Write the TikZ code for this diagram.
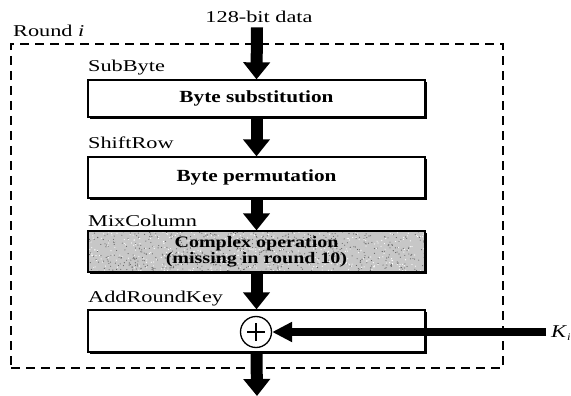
\documentclass[tikz,border=0pt]{standalone}
\usepackage{fontspec}
\setmainfont[FakeStretch=1.25]{Liberation Serif}
\newfontfamily\lblfont[FakeStretch=1.35]{Liberation Serif}
\usetikzlibrary{arrows.meta,shadows,calc}
\begin{document}
\begin{tikzpicture}[x=1pt,y=-1pt,
  stagebox/.style={draw, line width=1.3pt, minimum width=337pt, inner sep=0pt,
    fill=white, align=center,
    drop shadow={shadow xshift=2pt, shadow yshift=-2pt, fill=black, opacity=1},
    font=\fontsize{17}{17}\selectfont\bfseries},
  lbl/.style={anchor=base west, inner sep=0pt, font=\lblfont\fontsize{16.5}{17}\selectfont},
  bigarrow/.style={line width=12pt, -{Triangle[width=26pt,length=17pt]}},
  keyarrow/.style={line width=8pt, -{Triangle[width=19pt,length=20pt]}},
  frame/.style={draw, dashed, dash pattern=on 9pt off 6pt, line width=1.1pt, inner sep=0pt}
]
\useasboundingbox (0,0) rectangle (571,396);

% frame of the round
\node[frame, minimum width=492pt, minimum height=324pt] (round) at (257,206) {};
\node[lbl] (roundlbl) at (13,37) {Round \textit{i}};

% input text
\node[inner sep=0pt, font=\lblfont\fontsize{16.5}{17}\selectfont, anchor=base] (in) at (259,23) {128-bit data};

% stages
\node[stagebox, minimum height=37pt] (b1) at (256.5,98.5) {Byte substitution};
\node[stagebox, minimum height=41pt] (b2) at (256.5,177.5) {Byte permutation};
\node[stagebox, minimum height=41pt, fill=black!22,
  font=\fontsize{16}{16}\selectfont\bfseries,
  path picture={
    \pgfmathsetseed{7}
    \foreach \i in {1,...,700}{
      \pgfmathsetmacro\rx{rnd*340}
      \pgfmathsetmacro\ry{rnd*44}
      \fill[black!65] ($(path picture bounding box.north west)+(\rx,\ry)$) circle (0.55pt);
    }
    \foreach \i in {1,...,500}{
      \pgfmathsetmacro\rx{rnd*340}
      \pgfmathsetmacro\ry{rnd*44}
      \fill[white] ($(path picture bounding box.north west)+(\rx,\ry)$) circle (0.6pt);
    }
  }] (b3) at (256.5,251.5) {Complex operation\\(missing in round 10)};
\node[stagebox, minimum height=42pt] (b4) at (256.5,331) {};

% stage labels
\node[lbl] (l1) at (88,72) {SubByte};
\node[lbl] (l2) at (88,149) {ShiftRow};
\node[lbl] (l3) at (88,226) {MixColumn};
\node[lbl] (l4) at (88,302) {AddRoundKey};

% xor
\node[draw, circle, line width=1.3pt, minimum size=31pt, inner sep=0pt, fill=white] (xor) at (256,332) {};
\draw[line width=1.2pt] ($(xor.center)+(-9,0)$) -- ($(xor.center)+(9,0)$);
\draw[line width=1.2pt] ($(xor.center)+(0,-9)$) -- ($(xor.center)+(0,9)$);

% key
\coordinate (kstart) at (546,332);
\node[inner sep=0pt, anchor=west, font=\fontsize{18}{18}\selectfont] (key) at (551,333) {\textit{K}\raisebox{-3pt}{\fontsize{10}{10}\selectfont\textit{i}}};
\draw[keyarrow] (kstart) -- (xor.east);

% data flow
\coordinate (out) at (257,396);
\draw[bigarrow] ($(in.south)+(-2,4)$) -- (b1.north);
\draw[bigarrow] (b1.south) -- (b2.north);
\draw[bigarrow] (b2.south) -- (b3.north);
\draw[bigarrow] (b3.south) -- (b4.north);
\draw[bigarrow] (b4.south) -- (out);
\end{tikzpicture}
\end{document}
